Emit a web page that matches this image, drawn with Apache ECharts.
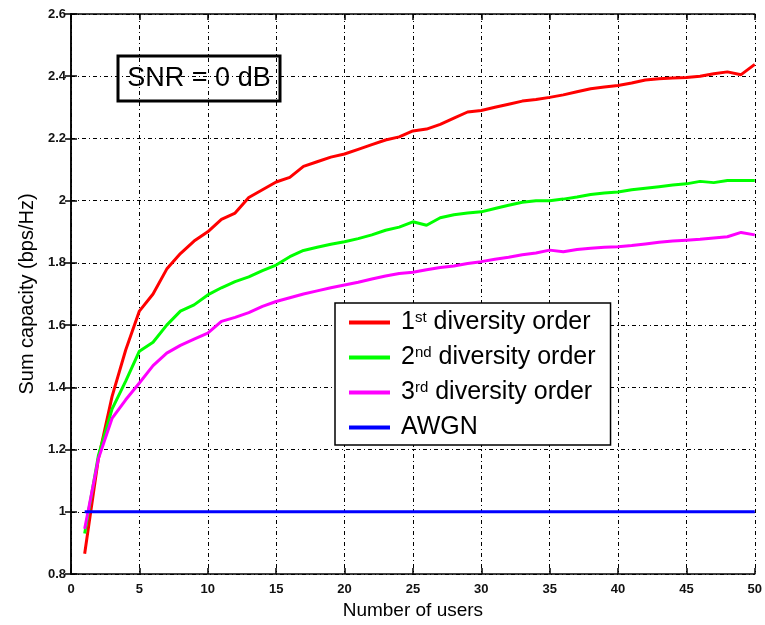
<!DOCTYPE html>
<html>
<head>
<meta charset="utf-8">
<script src="https://cdn.jsdelivr.net/npm/echarts@6/dist/echarts.min.js"></script>
<style>
  html, body { margin: 0; padding: 0; background: #fff; }
  #chart { width: 765px; height: 625px; }
</style>
</head>
<body>
<div id="chart"></div>
<script>
// Number of users on the x axis
const users = [];
for (let u = 1; u <= 50; u++) users.push(u);

// Sum capacity (bps/Hz) per number of users, SNR = 0 dB
const order1 = [0.865, 1.17, 1.37, 1.52, 1.645, 1.70, 1.78, 1.83, 1.87, 1.90,
  1.94, 1.96, 2.01, 2.035, 2.06, 2.075, 2.11, 2.125, 2.14, 2.15,
  2.165, 2.18, 2.195, 2.205, 2.224, 2.23, 2.245, 2.265, 2.285, 2.29,
  2.30, 2.31, 2.32, 2.325, 2.332, 2.34, 2.35, 2.36, 2.365, 2.37,
  2.378, 2.388, 2.392, 2.394, 2.396, 2.40, 2.408, 2.414, 2.405, 2.438];
const order2 = [0.93, 1.18, 1.33, 1.42, 1.516, 1.545, 1.60, 1.645, 1.665, 1.697,
  1.72, 1.74, 1.755, 1.775, 1.793, 1.82, 1.84, 1.85, 1.86, 1.868,
  1.878, 1.89, 1.905, 1.915, 1.932, 1.921, 1.945, 1.955, 1.96, 1.964,
  1.975, 1.985, 1.995, 2.0, 2.0, 2.005, 2.012, 2.02, 2.025, 2.028,
  2.035, 2.04, 2.045, 2.05, 2.054, 2.062, 2.058, 2.065, 2.065, 2.065];
const order3 = [0.945, 1.17, 1.30, 1.36, 1.414, 1.47, 1.51, 1.535, 1.555, 1.574,
  1.612, 1.625, 1.64, 1.66, 1.676, 1.688, 1.70, 1.71, 1.72, 1.729,
  1.738, 1.748, 1.758, 1.766, 1.77, 1.778, 1.785, 1.79, 1.798, 1.804,
  1.812, 1.818, 1.826, 1.832, 1.841, 1.836, 1.843, 1.847, 1.85, 1.852,
  1.856, 1.861, 1.866, 1.87, 1.873, 1.876, 1.88, 1.884, 1.898, 1.89];
const awgn = users.map(() => 1);

const seriesNames = ['1st diversity order', '2nd diversity order', '3rd diversity order', 'AWGN'];
const legendLabels = {
  '1st diversity order': '1{sup|st} diversity order',
  '2nd diversity order': '2{sup|nd} diversity order',
  '3rd diversity order': '3{sup|rd} diversity order',
  'AWGN': 'AWGN'
};
const seriesValues = [order1, order2, order3, awgn];
const seriesColors = ['#ff0000', '#00ff00', '#ff00ff', '#0000ff'];

const FONT = 'Liberation Sans, Arial, Helvetica, sans-serif';
const gridDash = [4, 3, 1, 3];

const chart = echarts.init(document.getElementById('chart'), null, { renderer: 'canvas' });

const axisLine = { show: true, lineStyle: { color: '#000', width: 1.5 } };
const axisTick = { show: true, inside: true, length: 6, lineStyle: { color: '#000', width: 1.5 } };
const tickLabel = { fontFamily: FONT, fontSize: 13, fontWeight: 'bold', color: '#111' };

chart.setOption({
  animation: false,
  backgroundColor: '#fff',
  grid: { left: 71, right: 10, top: 14, bottom: 48, containLabel: false },
  xAxis: [{
    type: 'value', min: 0, max: 50, interval: 5,
    name: 'Number of users', nameLocation: 'middle', nameGap: 27,
    nameTextStyle: { fontFamily: FONT, fontSize: 19, color: '#000' },
    axisLine, axisTick,
    axisLabel: Object.assign({ margin: 9 }, tickLabel),
    splitLine: { show: true, lineStyle: { color: '#000', width: 1, type: gridDash } }
  }, {
    type: 'value', position: 'top', min: 0, max: 50, interval: 5,
    axisLine, axisTick, axisLabel: { show: false }, splitLine: { show: false }
  }],
  yAxis: [{
    type: 'value', min: 0.8, max: 2.6, interval: 0.2,
    name: 'Sum capacity (bps/Hz)', nameLocation: 'middle', nameGap: 29,
    nameTextStyle: { fontFamily: FONT, fontSize: 20, color: '#000' },
    axisLine, axisTick,
    axisLabel: Object.assign({ margin: 5 }, tickLabel),
    splitLine: { show: true, lineStyle: { color: '#000', width: 1, type: gridDash } }
  }, {
    type: 'value', position: 'right', min: 0.8, max: 2.6, interval: 0.2,
    axisLine, axisTick, axisLabel: { show: false }, splitLine: { show: false }
  }],
  legend: {
    data: seriesNames.map(name => ({ name, icon: 'rect' })),
    orient: 'vertical',
    left: 335, top: 303,
    padding: [7, 15, 5, 14],
    itemGap: 10,
    itemWidth: 41, itemHeight: 4,
    backgroundColor: '#fff',
    borderColor: '#000', borderWidth: 1.5,
    formatter: name => legendLabels[name],
    textStyle: {
      fontFamily: FONT, fontSize: 25, color: '#000', lineHeight: 24,
      padding: [0, 0, 0, 6],
      rich: { sup: { fontFamily: FONT, fontSize: 15, color: '#000', padding: [0, 0, 10, 0] } }
    }
  },
  series: seriesNames.map((name, i) => ({
    name,
    type: 'line',
    symbol: 'none',
    data: users.map((u, k) => [u, seriesValues[i][k]]),
    lineStyle: { color: seriesColors[i], width: 3 },
    itemStyle: { color: seriesColors[i] },
    z: 3
  })),
  graphic: [{
    type: 'rect',
    shape: { x: 118, y: 56, width: 162, height: 45 },
    style: { fill: 'none', stroke: '#000', lineWidth: 3 },
    z: 10
  }, {
    type: 'text',
    x: 199, y: 79,
    style: { text: 'SNR = 0 dB', font: '27px ' + FONT, fill: '#000', align: 'center', verticalAlign: 'middle' },
    z: 10
  }]
});
</script>
</body>
</html>
